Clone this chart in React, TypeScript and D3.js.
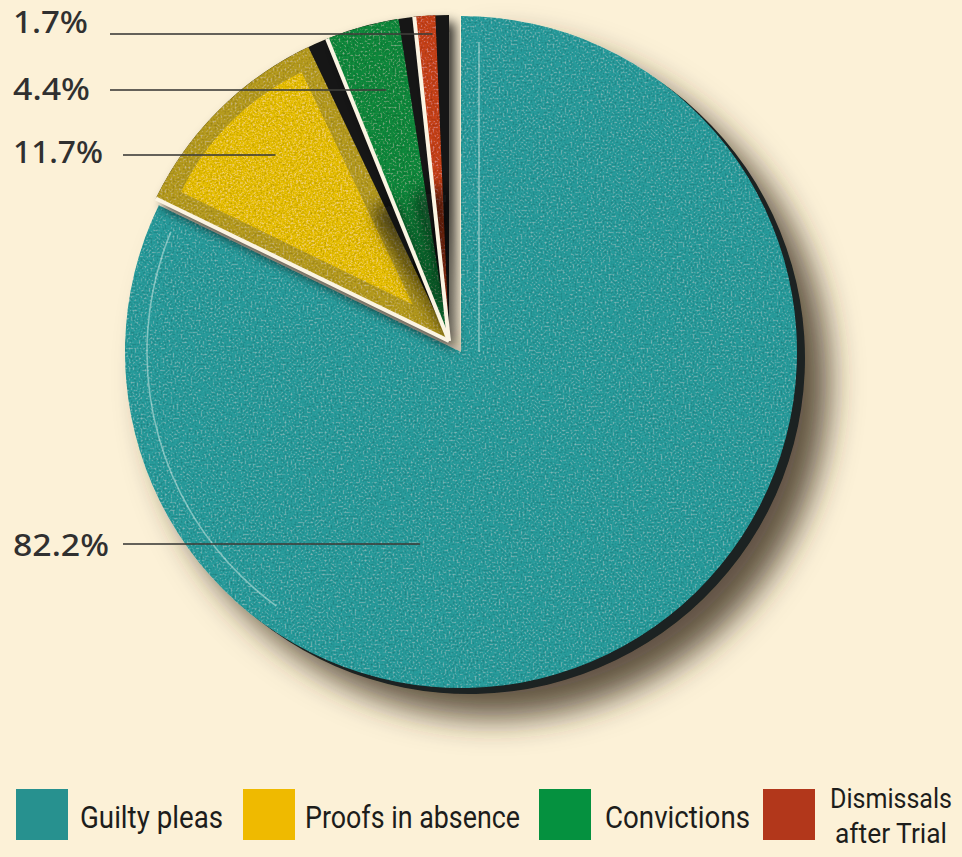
import React from 'react';
import * as d3 from 'd3';

// chart data
const categories = ['Guilty pleas', 'Proofs in absence', 'Convictions', 'Dismissals after Trial'];
const shares = [82.2, 11.7, 4.4, 1.7];
const shareLabels = ['82.2%', '11.7%', '4.4%', '1.7%'];
const sliceColors = ['#2b9b9b', '#e8c007', '#17893c', '#c6421d'];
const legendColors = ['#27918f', '#efba00', '#05913f', '#b2371b'];
const legendLines = [['Guilty pleas'], ['Proofs in absence'], ['Convictions'], ['Dismissals', 'after Trial']];

const width = 962;
const height = 857;

const App = () => {
    const cx = 461;
    const cy = 352;
    const radius = 336;
    const smallRadius = 326;
    // the three small slices are lifted out together
    const lift = [-12, -11];

    const pie = d3.pie<number>().sort(null).value((d) => d);
    const slices = pie(shares);
    const arc = d3.arc<any>().innerRadius(0).outerRadius(radius);
    const smallArc = d3.arc<any>().innerRadius(0).outerRadius(smallRadius);
    const nearApex = d3.arc<any>().innerRadius(0).outerRadius(150);

    const mid = (s) => (s.startAngle + s.endAngle) / 2;
    const deg = (a) => (a * Math.PI) / 180;
    const shade = [0, deg(3.6), deg(2.8), deg(2.4)];

    // inset face for the bevelled yellow slice
    const bevel = 17;
    const yFace = { startAngle: slices[1].startAngle, endAngle: slices[1].endAngle - shade[1] };
    const half = (yFace.endAngle - yFace.startAngle) / 2;
    const insetShift = bevel / Math.sin(half);
    const innerFace = d3.arc<any>().innerRadius(0).outerRadius(smallRadius - bevel - insetShift);
    const [ix, iy] = d3.pointRadial(mid(yFace), insetShift);

    // label layout: baseline, leader y, text width, leader start
    const labelLayout = [
        { base: 556, lineY: 544, w: 96, x0: 123 },
        { base: 163, lineY: 155, w: 90, x0: 123 },
        { base: 100, lineY: 90, w: 77, x0: 110 },
        { base: 33, lineY: 34, w: 75, x0: 110 },
    ];
    const tealLeaderAngle = deg(192);
    const leaderEnd = (s, i) => {
        const [ox, oy] = i === 0 ? [0, 0] : lift;
        const ang = i === 0 ? tealLeaderAngle : mid(s);
        const [dx, dy] = d3.pointRadial(ang, 1);
        const t = (cy + oy - labelLayout[i].lineY) / -dy;
        return cx + ox + dx * t;
    };

    // legend layout
    const swatchX = [16, 243, 539, 763];
    const textX = [80, 305, 605, 891];
    const textW = [143, 215, 145, 124];

    const highlightArc = d3.arc<any>()
        .innerRadius(radius - 22)
        .outerRadius(radius - 22)
        .startAngle(deg(216))
        .endAngle(slices[0].endAngle - 0.06);

    return (
        <svg width={width} height={height} style={{ position: 'absolute', left: 0, top: 0 }}>
            <defs>
                <filter id='grain' x='0' y='0' width='100%' height='100%'>
                    <feTurbulence type='fractalNoise' baseFrequency='0.5' numOctaves={3} seed={5} result='noise' />
                    <feColorMatrix in='noise' type='matrix'
                        values='0 0 0 0 0  0 0 0 0 0  0 0 0 0 0  1.0 0 0 0 -0.48' result='dark' />
                    <feColorMatrix in='noise' type='matrix'
                        values='0 0 0 0 1  0 0 0 0 1  0 0 0 0 1  -0.8 0 0 0 0.34' result='light' />
                    <feComposite in='dark' in2='SourceGraphic' operator='in' result='darkIn' />
                    <feComposite in='light' in2='SourceGraphic' operator='in' result='lightIn' />
                    <feMerge>
                        <feMergeNode in='SourceGraphic' />
                        <feMergeNode in='darkIn' />
                        <feMergeNode in='lightIn' />
                    </feMerge>
                </filter>
                <filter id='bigShadow' x='-20%' y='-20%' width='150%' height='150%'>
                    <feGaussianBlur in='SourceAlpha' stdDeviation={16} />
                    <feOffset dx={24} dy={24} result='blur' />
                    <feFlood floodColor='#3b2e1e' floodOpacity={0.8} />
                    <feComposite in2='blur' operator='in' result='shadow' />
                    <feMerge>
                        <feMergeNode in='shadow' />
                        <feMergeNode in='SourceGraphic' />
                    </feMerge>
                </filter>
                <filter id='smallShadow' x='-30%' y='-30%' width='160%' height='160%'>
                    <feGaussianBlur in='SourceAlpha' stdDeviation={6} />
                    <feOffset dx={6} dy={7} result='blur' />
                    <feFlood floodColor='#0a0a0a' floodOpacity={0.8} />
                    <feComposite in2='blur' operator='in' result='shadow' />
                    <feMerge>
                        <feMergeNode in='shadow' />
                        <feMergeNode in='SourceGraphic' />
                    </feMerge>
                </filter>
                <filter id='soft' x='-30%' y='-30%' width='160%' height='160%'>
                    <feGaussianBlur stdDeviation={9} />
                </filter>
                <clipPath id='smallClip'>
                    {slices.slice(1).map((s) => (
                        <path key={s.index} d={smallArc(s)} />
                    ))}
                </clipPath>
            </defs>

            <rect width={width} height={height} fill='#fcf1d7' />

            {/* main slice with rim and drop shadow */}
            <g filter='url(#bigShadow)'>
                <path d={arc(slices[0])} transform={`translate(${cx + 8},${cy + 6})`} fill='#1a2221' />
                <path d={arc(slices[0])} transform={`translate(${cx},${cy})`} fill={sliceColors[0]} filter='url(#grain)' />
            </g>
            <g transform={`translate(${cx},${cy})`} fill='none' stroke='#d8efe9' strokeOpacity={0.5} strokeWidth={1.6}>
                <path d={highlightArc(null)} />
                <line x1={18} x2={18} y1={-(radius - 26)} y2={0} />
            </g>

            {/* smaller slices, pulled out of the pie */}
            <g transform={`translate(${cx + lift[0]},${cy + lift[1]})`}>
                {slices.slice(1).map((s, k) => {
                    const i = k + 1;
                    const face = { startAngle: s.startAngle, endAngle: s.endAngle - shade[i] };
                    return (
                        <g key={categories[i]}>
                            <g filter='url(#smallShadow)'>
                                <path d={smallArc(s)} fill='#141412' />
                            </g>
                            <path d={smallArc(face)} fill={i === 1 ? '#b69b22' : sliceColors[i]} filter='url(#grain)' />
                            {i === 1 && (
                                <path d={innerFace(yFace)} transform={`translate(${ix},${iy})`} fill={sliceColors[1]} filter='url(#grain)' />
                            )}
                        </g>
                    );
                })}
                {/* dark shading where the slices meet near the centre */}
                <g clipPath='url(#smallClip)'>
                    {slices.slice(1).map((s, k) => (
                        <path
                            key={s.index}
                            d={nearApex({ startAngle: s.endAngle - shade[k + 1] * 2.2, endAngle: s.endAngle })}
                            fill='#0d0d0c'
                            opacity={0.85}
                            filter='url(#soft)'
                        />
                    ))}
                </g>
                {slices.slice(1).map((s) => {
                    const [ex, ey] = d3.pointRadial(s.startAngle, smallRadius);
                    return <line key={s.index} x1={0} y1={0} x2={ex} y2={ey} stroke='#fbf4e2' strokeWidth={4} />;
                })}
            </g>

            {/* percentage labels and leaders */}
            {slices.map((s, i) => (
                <g key={shareLabels[i]}>
                    <line
                        x1={labelLayout[i].x0}
                        x2={leaderEnd(s, i)}
                        y1={labelLayout[i].lineY}
                        y2={labelLayout[i].lineY}
                        stroke='#3d3d3a'
                        strokeOpacity={0.8}
                        strokeWidth={2}
                    />
                    <text
                        x={13}
                        y={labelLayout[i].base}
                        fontFamily='"Noto Sans", "Open Sans", sans-serif'
                        fontWeight={500}
                        fontSize={31}
                        fill='#303030'
                        textLength={labelLayout[i].w}
                        lengthAdjust='spacingAndGlyphs'
                    >
                        {shareLabels[i]}
                    </text>
                </g>
            ))}

            {/* legend */}
            {categories.map((c, i) => (
                <g key={c}>
                    <rect x={swatchX[i]} y={789} width={52} height={51} fill={legendColors[i]} />
                    {legendLines[i].length === 1 ? (
                        <text
                            x={textX[i]}
                            y={828}
                            fontFamily='"Liberation Sans Narrow", Roboto, sans-serif'
                            fontSize={31}
                            fill='#1d1d1b'
                            textLength={textW[i]}
                            lengthAdjust='spacingAndGlyphs'
                        >
                            {legendLines[i][0]}
                        </text>
                    ) : (
                        legendLines[i].map((t, j) => (
                            <text
                                key={t}
                                x={textX[i]}
                                y={808 + j * 35}
                                textAnchor='middle'
                                fontFamily='"Liberation Sans Narrow", Roboto, sans-serif'
                                fontSize={27}
                                fill='#1d1d1b'
                                textLength={j === 0 ? 122 : 112}
                                lengthAdjust='spacingAndGlyphs'
                            >
                                {t}
                            </text>
                        ))
                    )}
                </g>
            ))}
        </svg>
    );
};

export default App;
